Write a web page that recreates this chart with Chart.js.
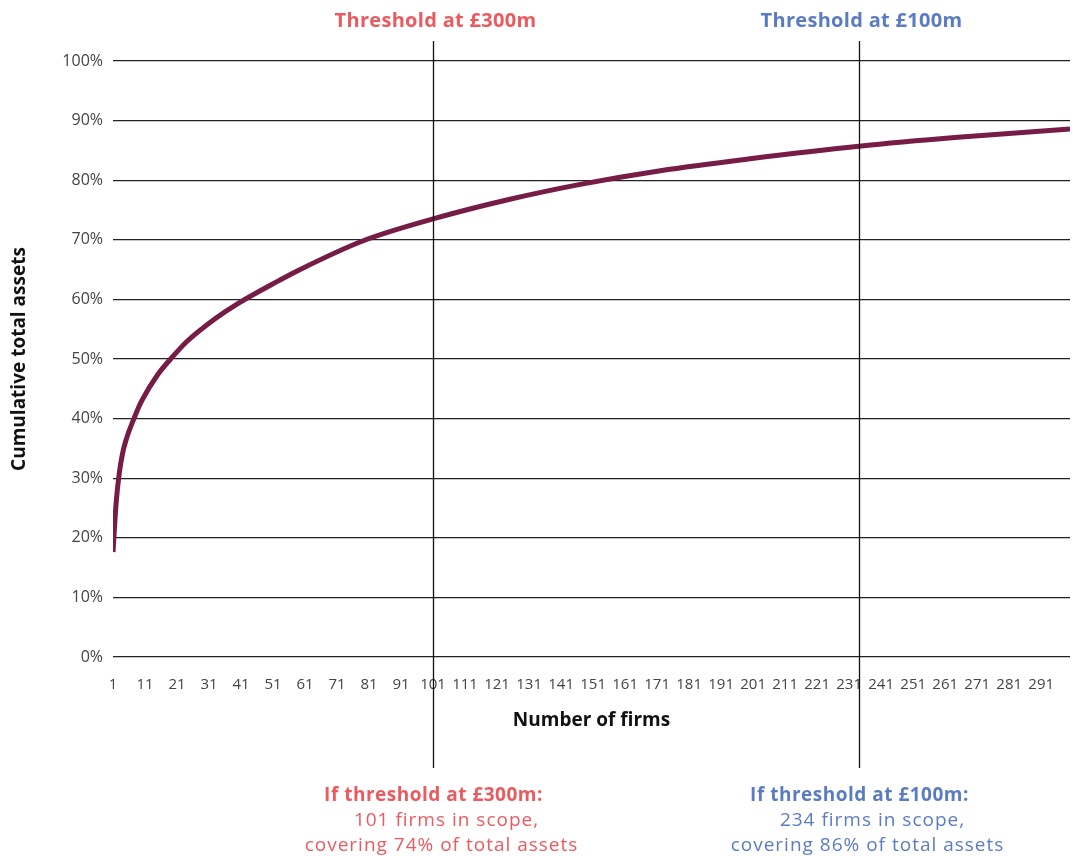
<!DOCTYPE html>
<html>
<head>
<meta charset="utf-8">
<script src="https://cdn.jsdelivr.net/npm/chart.js@4/dist/chart.umd.min.js"></script>
<style>
  html, body { margin: 0; padding: 0; background: #fff; }
</style>
</head>
<body>
<canvas id="assetsChart" width="1077" height="856"></canvas>
<script>
    // cumulative share of total assets by number of firms
    var firms = [1, 2, 3, 4, 5, 8, 10, 15, 19, 24, 33, 40, 53, 59, 79, 101, 125, 147, 172, 200, 234, 265, 300];
    var assetShare = [17.6, 26, 31, 34.2, 36.3, 40.6, 43, 47.4, 50, 52.9, 56.8, 59.3, 63.2, 64.9, 69.8, 73.5, 76.8, 79.3, 81.6, 83.6, 85.7, 87.2, 88.6];

    var xTickValues = [1, 11, 21, 31, 41, 51, 61, 71, 81, 91, 101, 111, 121, 131, 141, 151, 161, 171, 181, 191,
                       201, 211, 221, 231, 241, 251, 261, 271, 281, 291];

    var thresholdFirms = [101, 234];
    var thresholdColours = ["#eb5a5f", "#5b7cc2"];
    var thresholdTitles = ["Threshold at £300m", "Threshold at £100m"];
    var noteHeads = ["If threshold at £300m:", "If threshold at £100m:"];
    var noteLines1 = ["101 firms in scope,", "234 firms in scope,"];
    var noteLines2 = ["covering 74% of total assets", "covering 86% of total assets"];

    var thresholdPlugin = {
        id: "thresholds",
        afterDatasetsDraw: function(chart) {
            var ctx = chart.ctx;
            var xs = chart.scales.x;
            ctx.save();
            for (var i = 0; i < thresholdFirms.length; i++) {
                var px = Math.round(xs.getPixelForValue(thresholdFirms[i])) + 0.5;
                ctx.strokeStyle = "#111";
                ctx.lineWidth = 1.3;
                ctx.beginPath();
                ctx.moveTo(px, 41);
                ctx.lineTo(px, 768);
                ctx.stroke();

                ctx.fillStyle = thresholdColours[i];
                ctx.textAlign = "center";
                ctx.textBaseline = "middle";
                ctx.font = "bold 20px 'Open Sans'";
                ctx.letterSpacing = "0.3px";
                ctx.fillText(thresholdTitles[i], px + 2, 21);
                ctx.font = "bold 19px 'Open Sans'";
                ctx.letterSpacing = "0.5px";
                ctx.fillText(noteHeads[i], px, 796);
                ctx.font = "19px 'Open Sans'";
                ctx.letterSpacing = "1px";
                ctx.fillText(noteLines1[i], px + 13, 821);
                ctx.fillText(noteLines2[i], px + 8, 846);
            }
            ctx.restore();
        }
    };

    window.onload = function() {
        var points = firms.map(function(f, i) { return { x: f, y: assetShare[i] }; });

        new Chart("assetsChart", {
            type: "line",
            data: {
                datasets: [{
                    data: points,
                    borderColor: "#761c47",
                    borderWidth: 5,
                    pointRadius: 0,
                    fill: false,
                    cubicInterpolationMode: "monotone"
                }]
            },
            plugins: [thresholdPlugin],
            options: {
                responsive: false,
                animation: false,
                layout: { padding: { top: 61, left: 8, right: 7, bottom: 124 } },
                plugins: {
                    legend: { display: false },
                    tooltip: { enabled: false }
                },
                scales: {
                    x: {
                        type: "linear",
                        min: 1,
                        max: 300,
                        grid: { display: false },
                        border: { display: false },
                        afterBuildTicks: function(scale) {
                            scale.ticks = xTickValues.map(function(v) { return { value: v }; });
                        },
                        afterFit: function(scale) { scale.height = 75; },
                        ticks: {
                            autoSkip: false,
                            maxRotation: 0,
                            padding: 11,
                            color: "#444",
                            font: { family: "Open Sans", size: 15 }
                        },
                        title: {
                            display: true,
                            text: "Number of firms",
                            color: "#111",
                            padding: 0,
                            font: { family: "Open Sans", size: 19, weight: "bold" }
                        }
                    },
                    y: {
                        min: 0,
                        max: 100,
                        border: { display: false },
                        grid: { color: "#222", lineWidth: 1.3, drawTicks: false },
                        afterFit: function(scale) { scale.width = 105; },
                        ticks: {
                            stepSize: 10,
                            padding: 10,
                            color: "#444",
                            font: { family: "Open Sans", size: 16 },
                            callback: function(v) { return v + "%"; }
                        },
                        title: {
                            display: true,
                            text: "Cumulative total assets",
                            color: "#111",
                            padding: 0,
                            font: { family: "Open Sans", size: 19, weight: "bold" }
                        }
                    }
                }
            }
        });
    };
</script>
</body>
</html>
